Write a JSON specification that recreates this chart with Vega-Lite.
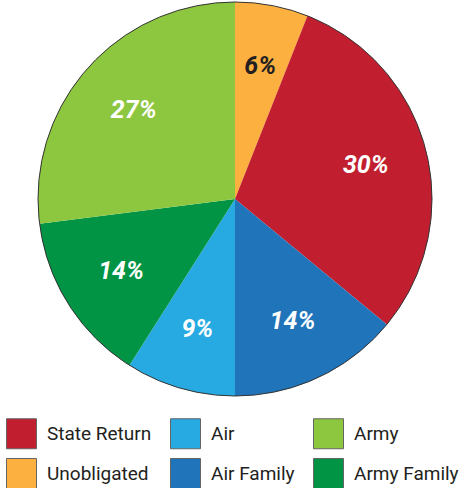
{
  "$schema": "https://vega.github.io/schema/vega-lite/v6.json",
  "width": 470,
  "height": 396,
  "padding": 0,
  "background": "white",
  "config": {"view": {"stroke": null}, "font": "Roboto"},
  "data": {
    "values": [
      {"category": "Unobligated", "value": 6, "order": 1, "label": "6%"},
      {"category": "State Return", "value": 30, "order": 2, "label": "30%"},
      {"category": "Air Family", "value": 14, "order": 3, "label": "14%"},
      {"category": "Air", "value": 9, "order": 4, "label": "9%"},
      {"category": "Army Family", "value": 14, "order": 5, "label": "14%"},
      {"category": "Army", "value": 27, "order": 6, "label": "27%"}
    ]
  },
  "encoding": {
    "theta": {"field": "value", "type": "quantitative", "stack": true},
    "order": {"field": "order", "type": "quantitative"}
  },
  "layer": [
    {
      "mark": {"type": "arc", "radius": 197},
      "encoding": {
        "color": {
          "field": "category",
          "type": "nominal",
          "scale": {
            "domain": ["State Return", "Air", "Army", "Unobligated", "Air Family", "Army Family"],
            "range": ["#C11F2F", "#27AAE1", "#8DC63F", "#FBB040", "#1F74BA", "#009444"]
          },
          "legend": {
            "title": null,
            "orient": "none",
            "legendX": 6,
            "legendY": 417,
            "direction": "horizontal",
            "columns": 3,
            "symbolType": "square",
            "symbolSize": 900,
            "symbolStrokeColor": "#666666",
            "symbolStrokeWidth": 1,
            "labelFont": "Roboto",
            "labelFontSize": 19,
            "labelColor": "#231F20",
            "labelOffset": 10,
            "rowPadding": 5,
            "columnPadding": 16,
            "padding": 0
          }
        }
      }
    },
    {
      "transform": [{"aggregate": [{"op": "sum", "field": "value", "as": "value"}]}, {"calculate": "1", "as": "order"}],
      "mark": {"type": "arc", "radius": 197, "fill": null, "fillOpacity": 0, "stroke": "#333333", "strokeWidth": 1}
    },
    {
      "mark": {"type": "text", "radius": 135, "fontSize": 25, "fontWeight": "bold", "fontStyle": "italic", "font": "Roboto"},
      "encoding": {
        "text": {"field": "label"},
        "color": {
          "condition": {"test": "datum.category === 'Unobligated'", "value": "#231F20"},
          "value": "white"
        }
      }
    }
  ]
}
